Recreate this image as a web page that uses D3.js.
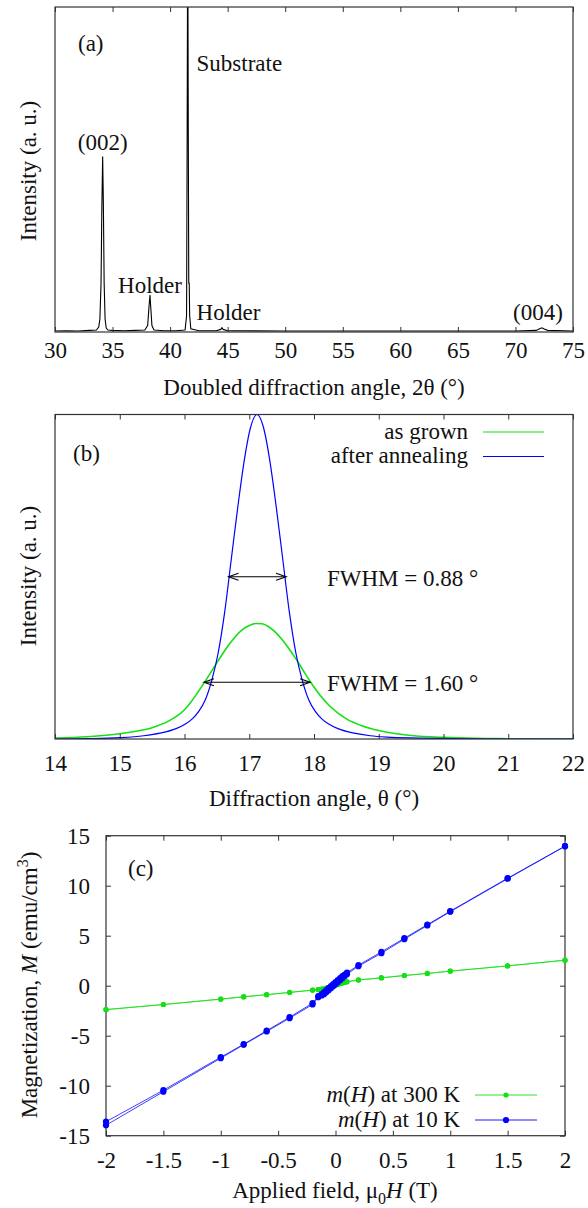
<!DOCTYPE html>
<html><head><meta charset="utf-8">
<script src="https://cdn.jsdelivr.net/npm/d3@7"></script>
<style>
body{margin:0;background:#fff;}
svg, svg text{font-family:'Liberation Serif', Tinos, 'Times New Roman', Times, 'DejaVu Serif', serif;fill:#111;}
</style></head><body>
<svg id="chart" width="588" height="1208"></svg>
<script>
// ---------- Panel (a): XRD 2theta scan ----------
const xrdAngle = [30,31,32,33,33.6,33.8,33.9,34.0,34.07,34.14,34.2,34.27,34.35,34.45,34.6,35,36,37,37.8,38.05,38.15,38.25,38.33,38.42,38.6,39.5,40.5,41.3,41.43,41.48,41.53,41.58,41.62,41.66,41.7,41.8,42.5,44,44.4,44.5,44.6,45,50,55,60,65,70,71.8,72.1,72.3,72.5,72.8,75];
const xrdIntensity = [0.3,0.4,0.3,0.5,0.6,1.5,4,15,38,54,40,15,4,1.2,0.6,0.5,0.4,0.5,0.6,2,7,11.4,7,2,0.6,0.4,0.4,0.6,5,60,130,60,15,15,5,1,0.4,0.4,0.8,1.3,0.8,0.4,0.3,0.3,0.3,0.3,0.3,0.5,1.0,1.3,0.9,0.5,0.3];
const xTicksA = [30,35,40,45,50,55,60,65,70,75];
const peakNames = ["(002)","Holder","Substrate","Holder","(004)"];
const peakLabelX = [34.14,38.25,42.3,42.3,71.96];
const peakLabelY = [58.6,14.5,82.8,6.2,6.2];
const peakAnchor = ["middle","middle","start","start","middle"];

// ---------- Panel (b): rocking curves ----------
const thetaBlue = [14,14.5,15,15.37,15.62,15.87,16.02,16.12,16.22,16.32,16.42,16.52,16.62,16.72,16.82,16.92,17.02,17.12,17.22,17.32,17.42,17.52,17.62,17.72,17.82,17.92,18.02,18.12,18.22,18.37,18.62,18.87,19.12,19.62,20.12,21,22];
const intBlue = [0,0.001,0.004,0.01,0.018,0.032,0.047,0.062,0.085,0.12,0.18,0.265,0.39,0.55,0.71,0.855,0.96,1.0,0.96,0.855,0.71,0.55,0.39,0.265,0.18,0.12,0.085,0.062,0.047,0.032,0.018,0.01,0.006,0.003,0.001,0,0];
const thetaGreen = [14,14.5,15,15.25,15.5,15.75,16,16.1,16.2,16.3,16.4,16.5,16.6,16.7,16.8,16.9,17,17.1,17.2,17.3,17.4,17.5,17.6,17.7,17.8,17.9,18,18.1,18.25,18.5,18.75,19,19.25,19.5,20,20.5,21,22];
const intGreen = [0.003,0.007,0.016,0.024,0.035,0.055,0.09,0.114,0.142,0.172,0.203,0.235,0.266,0.294,0.319,0.338,0.35,0.356,0.355,0.346,0.33,0.308,0.282,0.253,0.222,0.19,0.16,0.133,0.1,0.062,0.04,0.026,0.017,0.011,0.005,0.002,0.001,0];
const xTicksB = [14,15,16,17,18,19,20,21,22];
const seriesB = ["as grown","after annealing"];
const fwhmText = ["FWHM = 0.88 °","FWHM = 1.60 °"];
const fwhmLeft = [16.68,16.30];
const fwhmRight = [17.57,17.94];
const fwhmLevel = [0.5,0.175];

// ---------- Panel (c): magnetization loops ----------
const hDown = [2,1.5,1,0.8,0.6,0.4,0.2,0.1,0.08,0.06,0.04,0.02,0,-0.02,-0.04,-0.06,-0.08,-0.1,-0.12,-0.15,-0.2,-0.4,-0.6,-0.8,-1,-1.5,-2];
const hUp = [-2,-1.5,-1,-0.8,-0.6,-0.4,-0.2,-0.15,-0.12,-0.1,-0.08,-0.06,-0.04,-0.02,0,0.02,0.04,0.06,0.08,0.1,0.2,0.4,0.6,0.8,1,1.5,2];
const m10Down = [13.95,10.75,7.45,6.1,4.75,3.38,2.05,1.3,1.12,0.95,0.75,0.55,0.35,0.15,-0.05,-0.25,-0.45,-0.65,-0.85,-1.05,-1.75,-3.15,-4.5,-5.85,-7.15,-10.45,-13.6];
const m10Up = [-13.95,-10.6,-7.25,-5.9,-4.58,-3.25,-1.88,-1.15,-0.98,-0.85,-0.65,-0.45,-0.25,-0.05,0.15,0.35,0.55,0.75,0.95,1.15,1.95,3.25,4.65,6.02,7.4,10.7,13.95];
const m300Down = [2.55,1.98,1.45,1.23,1.02,0.8,0.58,0.42,0.36,0.3,0.22,0.14,0.06,-0.02,-0.1,-0.18,-0.25,-0.31,-0.35,-0.38,-0.44,-0.66,-0.9,-1.1,-1.33,-1.88,-2.38];
const m300Up = [-2.4,-1.88,-1.35,-1.12,-0.9,-0.68,-0.45,-0.4,-0.37,-0.33,-0.27,-0.2,-0.12,-0.04,0.04,0.12,0.2,0.26,0.32,0.37,0.56,0.78,1.02,1.23,1.46,1.98,2.55];
const xTicksC = [-2,-1.5,-1,-0.5,0,0.5,1,1.5,2];
const yTicksC = [-15,-10,-5,0,5,10,15];
const seriesC = ["300 K","10 K"];

// ---------- drawing ----------
const FONT = 23;
const SERIF = "'Liberation Serif', Tinos, 'Times New Roman', Times, 'DejaVu Serif', serif";
const GREEN = "#14e014", BLUE = "#0000ff", AX = "#333";
const svg = d3.select("#chart").attr("font-family", SERIF);
const defs = svg.append("defs");

function styleAxis(g){
  g.attr("font-family", SERIF).attr("font-size", FONT);
  g.select(".domain").remove();
  g.selectAll(".tick line").attr("stroke", AX);
  g.selectAll(".tick text").attr("fill", "#111");
}
function panelFrame(x, y, xt, yt, padX, withYLabels, padY){
  const [x0,x1] = x.range(), [y0,y1] = y.range();
  svg.append("g").attr("transform",`translate(0,${y0})`)
    .call(d3.axisBottom(x).tickValues(xt).tickSize(-5).tickPadding(padX).tickFormat(d=>String(d))).call(styleAxis);
  svg.append("g").attr("transform",`translate(0,${y1})`)
    .call(d3.axisTop(x).tickValues(xt).tickSize(-5).tickFormat("")).call(styleAxis);
  if (yt){
    svg.append("g").attr("transform",`translate(${x0},0)`)
      .call(d3.axisLeft(y).tickValues(yt).tickSize(-5).tickPadding(padY || 3).tickFormat(d=>withYLabels?String(d):"")).call(styleAxis);
    svg.append("g").attr("transform",`translate(${x1},0)`)
      .call(d3.axisRight(y).tickValues(yt).tickSize(-5).tickFormat("")).call(styleAxis);
  }
  svg.append("rect").attr("x",x0).attr("y",y1).attr("width",x1-x0).attr("height",y0-y1)
    .attr("fill","none").attr("stroke",AX).attr("stroke-width",1.2);
}
function clip(id, x, y){
  const [x0,x1] = x.range(), [y0,y1] = y.range();
  defs.append("clipPath").attr("id",id).append("rect")
    .attr("x",x0).attr("y",y1).attr("width",x1-x0).attr("height",y0-y1);
  return `url(#${id})`;
}
function yTitle(cx, cy, build){
  const t = svg.append("text").attr("transform",`translate(${cx},${cy}) rotate(-90)`)
    .attr("text-anchor","middle").attr("dy","0.35em").attr("font-size",FONT);
  build(t);
}

// Panel (a)
const xA = d3.scaleLinear().domain([30,75]).range([55,573]);
const yA = d3.scaleLinear().domain([0,100]).range([332,7]);
const clipA = clip("clipA", xA, yA);
svg.append("path").datum(d3.zip(xrdAngle, xrdIntensity))
  .attr("clip-path", clipA).attr("fill","none").attr("stroke","#000").attr("stroke-width",1.1)
  .attr("d", d3.line().x(d=>xA(d[0])).y(d=>yA(d[1])));
panelFrame(xA, yA, xTicksA, null, 9.3);
peakNames.forEach((n,i)=>{
  svg.append("text").attr("x",xA(peakLabelX[i])).attr("y",yA(peakLabelY[i])).attr("dy","0.35em")
    .attr("text-anchor",peakAnchor[i]).attr("font-size",FONT).text(n);
});
svg.append("text").attr("x",78).attr("y",43).attr("dy","0.35em").attr("font-size",FONT).text("(a)");
svg.append("text").attr("x",314).attr("y",387).attr("dy","0.35em").attr("text-anchor","middle")
  .attr("font-size",FONT).text("Doubled diffraction angle, 2θ (°)");
yTitle(28, 171, t=>t.text("Intensity (a. u.)"));

// Panel (b)
const xB = d3.scaleLinear().domain([14,22]).range([55,573]);
const yB = d3.scaleLinear().domain([0,1]).range([739,414.5]);
const clipB = clip("clipB", xB, yB);
const lineB = d3.line().x(d=>xB(d[0])).y(d=>yB(d[1])).curve(d3.curveMonotoneX);
svg.append("path").datum(d3.zip(thetaGreen,intGreen)).attr("clip-path",clipB)
  .attr("fill","none").attr("stroke",GREEN).attr("stroke-width",1.6).attr("d",lineB);
svg.append("path").datum(d3.zip(thetaBlue,intBlue)).attr("clip-path",clipB)
  .attr("fill","none").attr("stroke",BLUE).attr("stroke-width",1.2).attr("d",lineB);
panelFrame(xB, yB, xTicksB, null, 15.3);
fwhmText.forEach((s,i)=>{
  const y = yB(fwhmLevel[i]), a = xB(fwhmLeft[i]), b = xB(fwhmRight[i]);
  const g = svg.append("g").attr("stroke","#000").attr("stroke-width",1.1).attr("fill","none");
  g.append("line").attr("x1",a).attr("x2",b).attr("y1",y).attr("y2",y);
  g.append("path").attr("d",`M${a+10},${y-3.5}L${a},${y}L${a+10},${y+3.5}`);
  g.append("path").attr("d",`M${b-10},${y-3.5}L${b},${y}L${b-10},${y+3.5}`);
  svg.append("text").attr("x",327).attr("y",y+1).attr("dy","0.35em").attr("font-size",FONT).text(s);
});
[GREEN,BLUE].forEach((c,i)=>{
  const y = 432 + i*24.5;
  svg.append("text").attr("x",468).attr("y",y).attr("dy","0.3em").attr("text-anchor","end").attr("font-size",FONT).text(seriesB[i]);
  svg.append("line").attr("x1",483).attr("x2",544).attr("y1",y).attr("y2",y).attr("stroke",c).attr("stroke-width",1.2);
});
svg.append("text").attr("x",73).attr("y",453).attr("dy","0.35em").attr("font-size",FONT).text("(b)");
svg.append("text").attr("x",314).attr("y",798).attr("dy","0.35em").attr("text-anchor","middle")
  .attr("font-size",FONT).text("Diffraction angle, θ (°)");
yTitle(28, 576, t=>t.text("Intensity (a. u.)"));

// Panel (c)
const xC = d3.scaleLinear().domain([-2,2]).range([106,565]);
const yC = d3.scaleLinear().domain([-15,15]).range([1135.7,835.7]);
const clipC = clip("clipC", xC, yC);
const lineC = d3.line().x(d=>xC(d[0])).y(d=>yC(d[1]));
const loops = [
  {c:GREEN, r:2.6, pts:[d3.zip(hDown,m300Down), d3.zip(hUp,m300Up)]},
  {c:BLUE, r:3.1, pts:[d3.zip(hDown,m10Down), d3.zip(hUp,m10Up)]}
];
panelFrame(xC, yC, xTicksC, yTicksC, 15.6, true, 16);
loops.forEach(L=>{
  const g = svg.append("g");
  L.pts.forEach(p=>{
    g.append("path").datum(p).attr("clip-path",clipC).attr("fill","none").attr("stroke",L.c).attr("stroke-width",0.9)
      .attr("stroke-opacity",0.85).attr("d",lineC);
  });
  L.pts.forEach(p=>{
    g.selectAll(null).data(p).enter().append("circle")
      .attr("cx",d=>xC(d[0])).attr("cy",d=>yC(d[1])).attr("r",L.r).attr("fill",L.c);
  });
});
[GREEN,BLUE].forEach((c,i)=>{
  const y = 1095 + i*25;
  const t = svg.append("text").attr("x",460).attr("y",y).attr("dy","0.3em").attr("text-anchor","end").attr("font-size",FONT);
  t.append("tspan").attr("font-style","italic").text("m");
  t.append("tspan").text("(");
  t.append("tspan").attr("font-style","italic").text("H");
  t.append("tspan").text(") at " + seriesC[i]);
  svg.append("line").attr("x1",475).attr("x2",537).attr("y1",y).attr("y2",y).attr("stroke",c).attr("stroke-width",0.9);
  svg.append("circle").attr("cx",506).attr("cy",y).attr("r",loops[i].r).attr("fill",c);
});
svg.append("text").attr("x",128).attr("y",868).attr("dy","0.35em").attr("font-size",FONT).text("(c)");
{
  const t = svg.append("text").attr("x",335).attr("y",1190).attr("dy","0.35em").attr("text-anchor","middle").attr("font-size",FONT);
  t.append("tspan").text("Applied field, μ");
  t.append("tspan").attr("dy",6).attr("font-size",16).text("0");
  t.append("tspan").attr("dy",-6).attr("font-style","italic").text("H");
  t.append("tspan").text(" (T)");
}
yTitle(29, 985, t=>{
  t.append("tspan").text("Magnetization, ");
  t.append("tspan").attr("font-style","italic").text("M");
  t.append("tspan").text(" (emu/cm");
  t.append("tspan").attr("dy",-9).attr("font-size",16).text("3");
  t.append("tspan").attr("dy",9).text(")");
});
</script>
</body></html>
